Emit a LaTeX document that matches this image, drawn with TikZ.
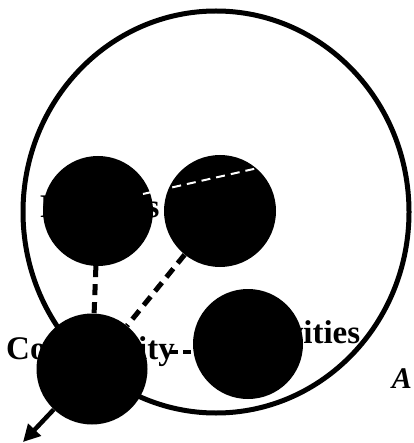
\documentclass[tikz,border=0pt]{standalone}
\usepackage{fontspec}
\setmainfont{Liberation Serif}
\usetikzlibrary{arrows.meta,shapes.geometric}
\begin{document}
\begin{tikzpicture}[x=1pt,y=-1pt,
  blk/.style={circle,fill=black,draw=none,inner sep=0pt},
  lbl/.style={font=\fontsize{33}{36}\selectfont\bfseries,inner sep=0pt,anchor=base west},
  dashline/.style={line width=5pt,dash pattern=on 11pt off 7pt},
  whitedash/.style={white,line width=2pt,dash pattern=on 9pt off 6pt}]
\useasboundingbox (0,0) rectangle (413,443);
\clip (0,0) rectangle (413,443);
% outer ellipse
\node[draw,ellipse,line width=5pt,minimum width=386pt,minimum height=402pt,inner sep=0pt] (outer) at (216,212) {};
% labels (partly hidden)
\node[lbl] (tfam) at (40,217) {Families};
\node[lbl] (tcom) at (6,359) {Community};
\node[lbl] (tact) at (228,343) {Activities};
\node[font=\fontsize{30}{34}\selectfont\bfseries\itshape,inner sep=0pt,anchor=base east] (ta) at (412,388) {A};
% black circles
\node[blk,minimum size=110pt] (fam) at (98,211) {};
\node[blk,minimum size=112pt] (tr) at (220,211) {};
\node[blk,minimum size=111pt] (com) at (92,369) {};
\node[blk,minimum size=110pt] (act) at (248,344) {};
% connectors
\draw[dashline] (fam) -- (com);
\draw[dashline] (tr) -- (com);
\coordinate (cd) at (170,352);
\draw[line width=3.5pt,dash pattern=on 8pt off 5pt] (cd) -- (cd -| act.west);
\coordinate (tip) at (23,442);
\draw[line width=4.5pt,-{Triangle[length=17pt,width=17pt]}] (com) -- (tip);
% white dashed line across the upper circles
\coordinate (w1) at (143,194);
\coordinate (w2) at (258,168);
\draw[whitedash] (w1) -- (w2);
\end{tikzpicture}
\end{document}
